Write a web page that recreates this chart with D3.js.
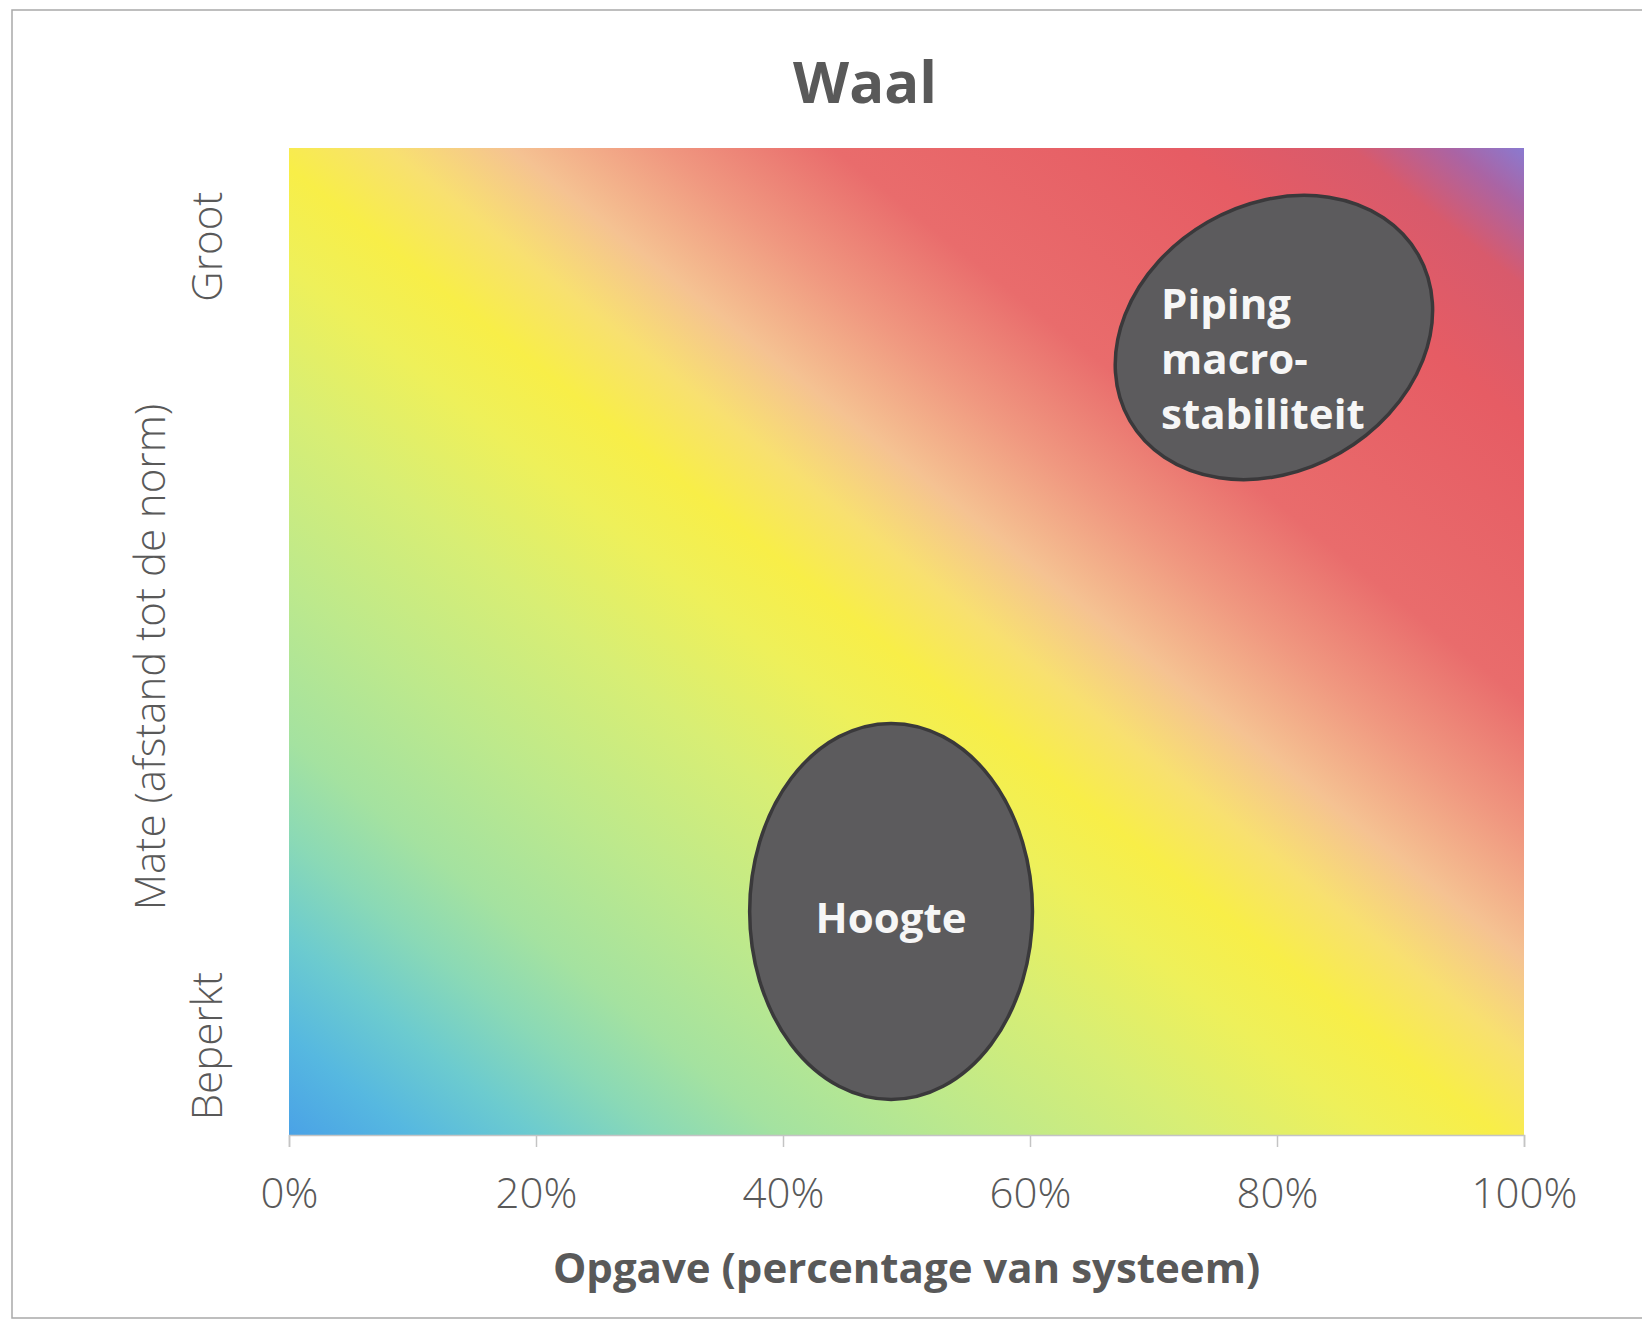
<!DOCTYPE html>
<html>
<head>
<meta charset="utf-8">
<script src="https://cdn.jsdelivr.net/npm/d3@7"></script>
<style>
  html, body { margin: 0; padding: 0; background: #ffffff; }
  svg { display: block; }
</style>
</head>
<body>
<div id="chart"></div>
<script>
// ---------- data ----------
const chartTitle = "Waal";
const xAxisTitle = "Opgave (percentage van systeem)";
const yAxisTitle = "Mate (afstand tot de norm)";
const xTickValues = [0, 0.2, 0.4, 0.6, 0.8, 1.0];
const yLevelLabels = ["Beperkt", "Groot"];
const yLevelValues = [0.09, 0.90];

// bubbles: extent in data units (opgave fraction, mate fraction)
const bubbleNames = ["Hoogte", "Piping macro-stabiliteit"];
const bubbleLines = [["Hoogte"], ["Piping", "macro-", "stabiliteit"]];
const bubbleXMin = [0.373, 0.669];
const bubbleXMax = [0.602, 0.926];
const bubbleYMin = [0.036, 0.664];
const bubbleYMax = [0.417, 0.952];

// background gradient stops (position along bottom-left -> top-right diagonal)
const gradOffsets = [0.00, 0.05, 0.10, 0.15, 0.20, 0.28, 0.37, 0.44, 0.49, 0.54, 0.59, 0.65, 0.72, 0.86, 0.93, 0.97, 1.00];
const gradColors  = ["#4aa2e6", "#56b8e0", "#6ccbcf", "#8ad9b6", "#a4e2a0", "#bde98c", "#d8ee74", "#eef05a",
                     "#f8ee48", "#f8e070", "#f5c292", "#f09880", "#e96c6c", "#e65c64", "#d85a6c", "#aa64a4", "#8a7ad0"];

// ---------- layout ----------
const W = 1642, H = 1320;
const plot = { left: 289, right: 1524, top: 148, bottom: 1135 };
const textColor = "#595959";
const fontFamily = "'Open Sans', 'DejaVu Sans', sans-serif";

const svg = d3.select("#chart").append("svg")
  .attr("width", W).attr("height", H);

svg.append("rect").attr("width", W).attr("height", H).attr("fill", "#ffffff");

// chart area border
svg.append("rect")
  .attr("x", 12).attr("y", 10)
  .attr("width", W).attr("height", 1308)
  .attr("fill", "none")
  .attr("stroke", "#a9a9a9")
  .attr("stroke-width", 1.5);

const x = d3.scaleLinear().domain([0, 1]).range([plot.left, plot.right]);
const y = d3.scaleLinear().domain([0, 1]).range([plot.bottom, plot.top]);

// gradient
const defs = svg.append("defs");
const grad = defs.append("linearGradient")
  .attr("id", "bg")
  .attr("x1", 0).attr("y1", 1).attr("x2", 1).attr("y2", 0);
grad.selectAll("stop")
  .data(gradOffsets)
  .join("stop")
  .attr("offset", d => d)
  .attr("stop-color", (d, i) => gradColors[i]);

svg.append("rect")
  .attr("x", x(0)).attr("y", y(1))
  .attr("width", x(1) - x(0)).attr("height", y(0) - y(1))
  .attr("fill", "url(#bg)");

// title
svg.append("text")
  .attr("x", 865).attr("y", 103)
  .attr("text-anchor", "middle")
  .attr("font-family", fontFamily)
  .attr("font-weight", 700)
  .attr("font-size", 58)
  .attr("fill", textColor)
  .text(chartTitle);

// x axis
const xAxis = d3.axisBottom(x)
  .tickValues(xTickValues)
  .tickFormat(d3.format(".0%"))
  .tickSize(12)
  .tickPadding(31);

const gx = svg.append("g")
  .attr("transform", `translate(0,${plot.bottom})`)
  .call(xAxis);
gx.select(".domain").attr("stroke", "#c4c4c4").attr("stroke-width", 1.5);
gx.selectAll(".tick line").attr("stroke", "#c4c4c4").attr("stroke-width", 1.5);
gx.selectAll(".tick text")
  .attr("font-family", fontFamily)
  .attr("font-weight", 300)
  .attr("font-size", 42)
  .attr("fill", textColor);

// x axis title
svg.append("text")
  .attr("x", (plot.left + plot.right) / 2).attr("y", 1283)
  .attr("text-anchor", "middle")
  .attr("font-family", fontFamily)
  .attr("font-weight", 700)
  .attr("font-size", 42)
  .attr("fill", textColor)
  .text(xAxisTitle);

// y level labels
svg.selectAll(".ylevel")
  .data(yLevelLabels)
  .join("text")
  .attr("class", "ylevel")
  .attr("transform", (d, i) => `translate(222,${y(yLevelValues[i])}) rotate(-90)`)
  .attr("text-anchor", "middle")
  .attr("font-family", fontFamily)
  .attr("font-weight", 300)
  .attr("font-size", 42)
  .attr("fill", textColor)
  .text(d => d);

// y axis title
svg.append("text")
  .attr("transform", `translate(165,657) rotate(-90)`)
  .attr("text-anchor", "middle")
  .attr("font-family", fontFamily)
  .attr("font-weight", 300)
  .attr("font-size", 42)
  .attr("fill", textColor)
  .text(yAxisTitle);

// bubbles
const tilt = [0, -30];        // degrees, style
const labelShift = [8, 22];   // vertical offset of label block, style
const labelDx = [0, -11];     // horizontal offset of label block, style
const lineHeight = 55;

bubbleNames.forEach((name, i) => {
  const x0 = x(bubbleXMin[i]), x1 = x(bubbleXMax[i]);
  const y0 = y(bubbleYMax[i]), y1 = y(bubbleYMin[i]);
  const cx = (x0 + x1) / 2, cy = (y0 + y1) / 2;
  const hw = (x1 - x0) / 2, hh = (y1 - y0) / 2;
  let rx = hw, ry = hh;
  if (tilt[i] !== 0) {
    const phi = tilt[i] * Math.PI / 180;
    const c2 = Math.cos(phi) ** 2, s2 = Math.sin(phi) ** 2;
    const det = c2 * c2 - s2 * s2;
    rx = Math.sqrt((hw * hw * c2 - hh * hh * s2) / det);
    ry = Math.sqrt((hh * hh * c2 - hw * hw * s2) / det);
  }
  const g = svg.append("g").attr("class", "bubble");
  g.append("ellipse")
    .attr("cx", 0).attr("cy", 0)
    .attr("rx", rx).attr("ry", ry)
    .attr("transform", `translate(${cx},${cy}) rotate(${tilt[i]})`)
    .attr("fill", "#5c5b5d")
    .attr("stroke", "#3a393b")
    .attr("stroke-width", 3.5);

  const lines = bubbleLines[i];
  const t = g.append("text")
    .attr("font-family", fontFamily)
    .attr("font-weight", 700)
    .attr("font-size", 42)
    .attr("fill", "#f6f6f6");
  const firstBaseline = cy + labelShift[i] - (lines.length - 1) * lineHeight / 2 + 14;
  lines.forEach((ln, j) => {
    t.append("tspan")
      .attr("x", 0)
      .attr("y", firstBaseline + j * lineHeight)
      .text(ln);
  });
  if (lines.length === 1) {
    t.attr("text-anchor", "middle");
    t.selectAll("tspan").attr("x", cx + labelDx[i]);
  } else {
    const w = t.node().getBBox().width;
    t.selectAll("tspan").attr("x", cx - w / 2 + labelDx[i]);
  }
});
</script>
</body>
</html>
